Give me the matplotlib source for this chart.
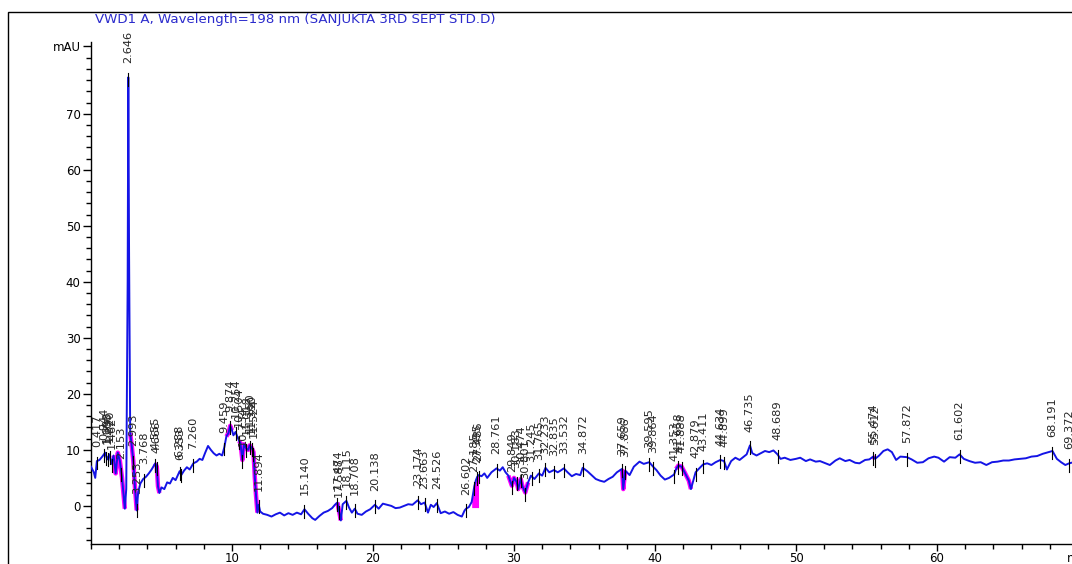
import numpy as np
import matplotlib
matplotlib.use("Agg")
import matplotlib.pyplot as plt
from matplotlib.patches import Rectangle
from matplotlib.ticker import MultipleLocator

# detector signal (min, mAU)
rt_min = [
    0.0, 0.2, 0.3, 0.417, 0.6, 0.8, 1.0, 1.15, 1.3, 1.45, 1.6, 1.75, 1.9, 2.05,
    2.2, 2.4, 2.5, 2.6, 2.646, 2.7, 2.78, 2.9, 3.0, 3.1, 3.24, 3.35, 3.5, 3.7,
    3.9, 4.1, 4.3, 4.555, 4.666, 4.75, 4.85, 5.0, 5.2, 5.4, 5.6, 5.8, 6.0,
    6.288, 6.4, 6.6, 6.8, 7.0, 7.26, 7.5, 7.7, 7.9, 8.1, 8.3, 8.5, 8.7, 8.9,
    9.1, 9.3, 9.459, 9.6, 9.75, 9.874, 10.0, 10.1, 10.254, 10.4, 10.504, 10.6,
    10.734, 10.85, 11.018, 11.15, 11.25, 11.39, 11.524, 11.62, 11.7, 11.8,
    11.894, 12.0, 12.2, 12.5, 12.8, 13.1, 13.4, 13.7, 14.0, 14.3, 14.6, 14.9,
    15.14, 15.4, 15.7, 15.9, 16.2, 16.5, 16.8, 17.1, 17.3, 17.474, 17.6, 17.72,
    17.85, 18.115, 18.3, 18.5, 18.708, 18.9, 19.2, 19.5, 19.8, 20.138, 20.4,
    20.7, 21.0, 21.3, 21.6, 21.9, 22.2, 22.5, 22.8, 23.174, 23.4, 23.663, 23.9,
    24.1, 24.3, 24.526, 24.8, 25.1, 25.4, 25.7, 26.0, 26.3, 26.5, 26.602, 26.8,
    27.0, 27.185, 27.3, 27.395, 27.486, 27.7, 27.9, 28.1, 28.4, 28.761, 29.0,
    29.2, 29.4, 29.6, 29.849, 30.0, 30.183, 30.3, 30.474, 30.6, 30.801, 31.0,
    31.2, 31.45, 31.765, 32.0, 32.233, 32.5, 32.835, 33.1, 33.3, 33.532, 33.8,
    34.1, 34.4, 34.7, 34.872, 35.2, 35.5, 35.8, 36.1, 36.4, 36.7, 37.0, 37.3,
    37.659, 37.75, 37.886, 38.2, 38.5, 38.9, 39.2, 39.595, 39.864, 40.1, 40.4,
    40.7, 41.0, 41.353, 41.5, 41.658, 41.888, 42.1, 42.4, 42.55, 42.879, 43.1,
    43.411, 43.7, 44.0, 44.3, 44.634, 44.899, 45.1, 45.4, 45.7, 46.0, 46.3,
    46.5, 46.735, 46.9, 47.2, 47.5, 47.8, 48.1, 48.4, 48.689, 48.9, 49.2, 49.6,
    50.0, 50.3, 50.7, 51.0, 51.4, 51.7, 52.1, 52.4, 52.8, 53.1, 53.5, 53.8,
    54.2, 54.5, 54.9, 55.2, 55.474, 55.612, 55.9, 56.2, 56.5, 56.8, 57.1, 57.4,
    57.872, 58.2, 58.6, 59.0, 59.4, 59.8, 60.1, 60.5, 60.9, 61.3, 61.602, 61.9,
    62.3, 62.7, 63.1, 63.5, 63.9, 64.3, 64.7, 65.1, 65.5, 65.9, 66.3, 66.7,
    67.1, 67.5, 67.9, 68.191, 68.5, 68.8, 69.1, 69.372, 69.7,
]
signal_mau = [
    7.0, 6.0, 5.0, 8.0, 8.2, 8.8, 9.5, 8.3, 9.2, 7.5, 9.0, 5.8, 9.5, 8.0,
    5.0, -0.5, 3.0, 40.0, 76.5, 45.0, 13.0, 10.5, 8.0, 4.0, -0.8, 2.5, 4.0, 4.8,
    5.2, 5.8, 6.5, 7.6, 7.0, 3.5, 2.3, 3.3, 3.0, 4.2, 4.0, 5.0, 4.6,
    6.2, 5.5, 6.3, 6.9, 6.5, 7.6, 7.9, 8.4, 8.2, 9.5, 10.7, 10.0, 9.4, 9.0,
    9.3, 9.0, 10.5, 12.4, 13.0, 14.3, 13.5, 12.6, 13.2, 12.2, 11.6, 11.2,
    8.2, 11.0, 10.2, 10.0, 10.8, 10.4, 9.6, 5.0, 2.0, -1.2,
    0.2, -1.0, -1.4, -1.6, -1.9, -1.5, -1.2, -1.7, -1.3, -1.6, -1.2, -1.5,
    -0.6, -1.4, -2.2, -2.5, -1.8, -1.2, -0.9, -0.4, 0.2, 0.6, -1.0, -2.6,
    0.3, 0.9, -0.3, -1.2, -0.5, -1.4, -1.6, -1.0, -0.6, 0.2, -0.5,
    0.4, 0.2, 0.0, -0.4, -0.3, 0.0, 0.3, 0.2, 1.0, 0.3, 0.6, -1.2,
    0.2, -0.2, 0.5, -1.3, -1.0, -1.4, -1.1, -1.6, -1.9, -0.8, -0.5, -0.2,
    0.7, 3.5, 4.6, 5.2, 5.5, 5.3, 5.8, 5.0, 6.0, 6.7, 6.3,
    6.9, 6.0, 5.4, 3.6, 5.0, 4.3, 3.0, 4.8, 3.5, 2.4, 4.2,
    5.4, 4.8, 5.8, 5.4, 6.8, 6.0, 6.4, 6.0, 6.3, 6.7, 6.0,
    5.3, 5.7, 5.5, 6.8, 6.2, 5.5, 4.8, 4.5, 4.3, 4.8, 5.2, 6.0,
    6.6, 3.0, 6.3, 5.5, 7.0, 7.9, 7.5, 7.8, 7.0, 6.4, 5.4,
    4.7, 5.0, 5.6, 6.6, 7.2, 7.0, 6.0, 4.5, 3.0, 6.0, 6.6,
    7.4, 7.6, 7.3, 7.8, 8.2, 8.0, 6.5, 8.0, 8.6, 8.2, 8.8,
    9.2, 10.8, 9.4, 9.0, 9.4, 9.8, 9.6, 9.9, 9.2, 8.4, 8.6, 8.2,
    8.4, 8.6, 8.0, 8.3, 7.9, 8.0, 7.6, 7.3, 8.1, 8.5, 8.0, 8.2,
    7.7, 7.6, 8.2, 8.3, 8.8, 8.4, 9.0, 9.8, 10.1, 9.6, 8.2, 8.8,
    8.7, 8.3, 7.7, 7.8, 8.5, 8.8, 8.6, 7.9, 8.7, 8.6, 9.2, 8.4,
    8.0, 7.7, 7.8, 7.3, 7.8, 7.9, 8.1, 8.1, 8.3, 8.4, 8.5, 8.8,
    8.9, 9.3, 9.6, 9.8, 8.4, 7.8, 7.3, 7.6, 7.8,
]

# integrated peaks (retention times)
peak_rt = [
    0.417, 0.944, 1.093, 1.206, 1.320, 1.462, 2.153, 2.646, 2.993, 3.253,
    3.768, 4.555, 4.666, 6.288, 6.353, 7.260, 9.459, 9.874, 10.254, 10.504,
    10.734, 11.018, 11.250, 11.390, 11.524, 11.894, 15.140, 17.474, 17.588,
    18.115, 18.708, 20.138, 23.174, 23.663, 24.526, 26.602, 27.185, 27.395,
    27.486, 28.761, 29.849, 30.183, 30.474, 30.801, 31.245, 31.765, 32.233,
    32.835, 33.532, 34.872, 37.659, 37.886, 39.595, 39.864, 41.353, 41.658,
    41.888, 42.879, 43.411, 44.634, 44.899, 46.735, 48.689, 55.474, 55.612,
    57.872, 61.602, 68.191, 69.372,
]

# peak-area highlighting: slopes traced in magenta, one filled block
area_slopes = [
    (1.5, 2.45), (2.75, 3.3), (4.5, 4.85), (9.6, 10.0), (10.5, 11.85),
    (17.4, 17.75), (29.6, 31.0), (37.6, 37.9), (41.4, 42.6), (55.4, 55.7),
]
area_blocks = [(26.95, 27.6, -0.3)]

t = np.array(rt_min)
y = np.array(signal_mau)

fig = plt.figure(figsize=(10.72, 5.64), dpi=100)
W, H = 1072, 564

# outer report frame
frame = Rectangle((8 / W, -0.1), 1.2, (H - 12) / H + 0.1, transform=fig.transFigure,
                  fill=False, edgecolor='black', linewidth=1.0)
fig.patches.append(frame)

ax = fig.add_axes([91 / W, 20 / H, 70 * 14.1 / W, (544 - 42) / H])
ax.set_xlim(0, 70)
ax.set_ylim(-6.8, 82.8)

for a, b in area_slopes:
    m = (t >= a) & (t <= b)
    ax.plot(t[m], y[m], color='#ff00ff', linewidth=3.2, solid_capstyle='butt', zorder=2)
for a, b, base in area_blocks:
    m = (t >= a) & (t <= b)
    ax.fill_between(t[m], y[m], base, color='#ff00ff', linewidth=0, zorder=2)

ax.plot(t, y, color='#1414e6', linewidth=1.4, zorder=3)

for rt in peak_rt:
    v = np.interp(rt, t, y)
    ax.plot([rt, rt], [v - 1.5, v + 0.8], color='black', linewidth=0.8, zorder=4)
    ax.annotate(f"{rt:.3f}", (rt, v), xytext=(0, 10), textcoords='offset points',
                rotation=90, ha='center', va='bottom', fontsize=8.2,
                color='#262626', zorder=5)

for side in ['top', 'right']:
    ax.spines[side].set_visible(False)
ax.spines['left'].set_linewidth(1.0)
ax.spines['bottom'].set_linewidth(1.0)

ax.set_yticks([0, 10, 20, 30, 40, 50, 60, 70, 82])
ax.set_yticklabels(['0', '10', '20', '30', '40', '50', '60', '70', 'mAU'])
ax.yaxis.set_minor_locator(MultipleLocator(2))
ax.set_xticks([10, 20, 30, 40, 50, 60, 70])
ax.set_xticklabels(['10', '20', '30', '40', '50', '60', 'min'])
ax.xaxis.set_minor_locator(MultipleLocator(2))
ax.tick_params(which='major', length=5.5, width=1.0, labelsize=8.5, pad=2)
ax.tick_params(axis='x', which='major', length=5, pad=0.5)
ax.tick_params(which='minor', length=3.5, width=1.0)

fig.text(95 / W, 1 - 19.5 / H,
         "VWD1 A, Wavelength=198 nm (SANJUKTA 3RD SEPT STD.D)",
         color='#2b2bcc', fontsize=9.6, va='center', ha='left')

fig.savefig('out.png', dpi=100)
